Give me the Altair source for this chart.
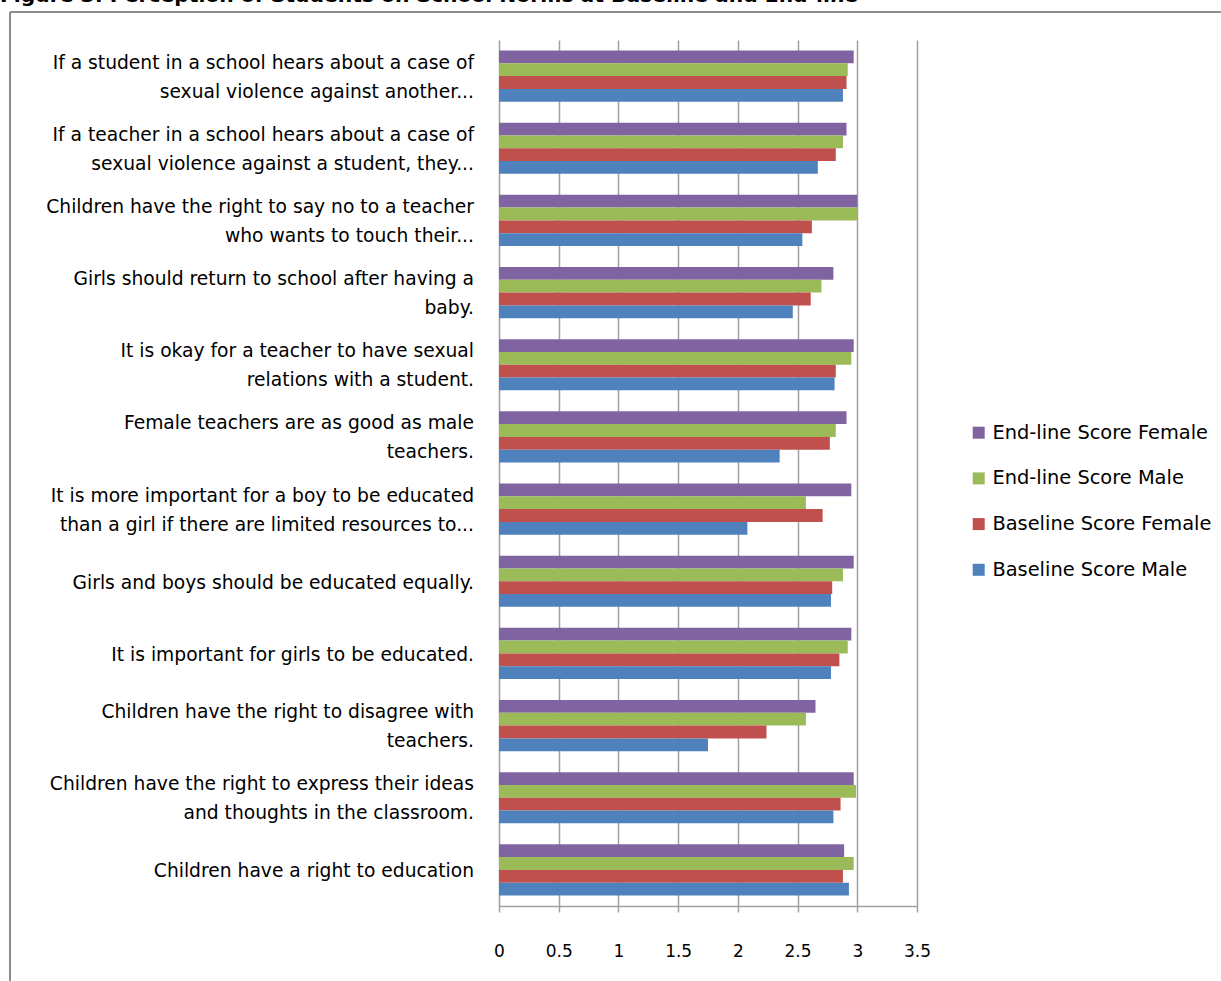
import altair as alt
import pandas as pd

# Survey statements (top to bottom), line breaks mark wrapped labels
categories = [
    "If a student in a school hears about a case of\nsexual violence against another...",
    "If a teacher in a school hears about a case of\nsexual violence against a student, they...",
    "Children have the right to say no to a teacher\nwho wants to touch their...",
    "Girls should return to school after having a\nbaby.",
    "It is okay for a teacher to have sexual\nrelations with a student.",
    "Female teachers are as good as male\nteachers.",
    "It is more important for a boy to be educated\nthan a girl if there are limited resources to...",
    "Girls and boys should be educated equally.",
    "It is important for girls to be educated.",
    "Children have the right to disagree with\nteachers.",
    "Children have the right to express their ideas\nand thoughts in the classroom.",
    "Children have a right to education",
]

endline_female = [2.97, 2.91, 3.00, 2.80, 2.97, 2.91, 2.95, 2.97, 2.95, 2.65, 2.97, 2.89]
endline_male = [2.92, 2.88, 3.00, 2.70, 2.95, 2.82, 2.57, 2.88, 2.92, 2.57, 2.99, 2.97]
baseline_female = [2.91, 2.82, 2.62, 2.61, 2.82, 2.77, 2.71, 2.79, 2.85, 2.24, 2.86, 2.88]
baseline_male = [2.88, 2.67, 2.54, 2.46, 2.81, 2.35, 2.08, 2.78, 2.78, 1.75, 2.80, 2.93]

series_names = [
    "End-line Score Female",
    "End-line Score Male",
    "Baseline Score Female",
    "Baseline Score Male",
]
series_colors = ["#8064A2", "#9BBB59", "#C0504D", "#4F81BD"]
x_ticks = [0, 0.5, 1, 1.5, 2, 2.5, 3, 3.5]

title_text = "Figure 3: Perception of Students on School Norms at Baseline and End-line"

rows = []
for name, vals in zip(series_names, [endline_female, endline_male, baseline_female, baseline_male]):
    for cat, v in zip(categories, vals):
        rows.append({"category": cat, "series": name, "value": v})
df = pd.DataFrame(rows)

# One row per printed line of each category label
label_rows = []
for cat in categories:
    parts = cat.split("\n")
    if len(parts) == 1:
        label_rows.append({"category": cat, "text": parts[0], "pos": "single"})
    else:
        label_rows.append({"category": cat, "text": parts[0], "pos": "top"})
        label_rows.append({"category": cat, "text": parts[1], "pos": "bottom"})
labels_df = pd.DataFrame(label_rows)

FONT = "DejaVu Sans"
GRID = "#a0a0a0"

y_cat = alt.Y(
    "category:N",
    sort=categories,
    scale=alt.Scale(paddingInner=0.29, paddingOuter=0.145),
    axis=alt.Axis(
        title=None,
        labels=False,
        tickBand="extent",
        tickSize=6,
        tickColor=GRID,
        tickWidth=1.5,
        domainColor=GRID,
        domainWidth=1.5,
        grid=False,
    ),
)

bars = alt.Chart(df).mark_bar().encode(
    y=y_cat,
    yOffset=alt.YOffset(
        "series:N",
        sort=series_names,
        scale=alt.Scale(paddingInner=0, paddingOuter=0),
    ),
    x=alt.X(
        "value:Q",
        scale=alt.Scale(domain=[0, 3.5], nice=False),
        axis=alt.Axis(
            title=None,
            values=x_ticks,
            format="~g",
            labelFont=FONT,
            labelFontSize=17,
            labelColor="#000000",
            labelPadding=31,
            labelFlush=False,
            tickSize=6,
            tickColor=GRID,
            tickWidth=1.5,
            domainColor=GRID,
            domainWidth=1.5,
            grid=True,
            gridColor=GRID,
            gridWidth=1.5,
        ),
    ),
    color=alt.Color(
        "series:N",
        sort=series_names,
        scale=alt.Scale(domain=series_names, range=series_colors),
        legend=alt.Legend(
            title=None,
            orient="none",
            legendX=470,
            legendY=383,
            symbolType="square",
            symbolSize=144,
            symbolStrokeWidth=0,
            labelFont=FONT,
            labelFontSize=19.4,
            labelColor="#000000",
            labelOffset=4,
            rowPadding=24.7,
            labelLimit=0,
        ),
    ),
)


def label_layer(pos, dy):
    """Category label lines, right-aligned to the left of the axis."""
    return (
        alt.Chart(labels_df)
        .transform_filter(alt.datum.pos == pos)
        .mark_text(align="right", baseline="middle", dy=dy, font=FONT, fontSize=18.7, color="#000000")
        .encode(
            y=alt.Y("category:N", sort=categories, axis=None),
            x=alt.value(-25),
            text="text:N",
        )
    )


labels_single = label_layer("single", 1.5)
labels_top = label_layer("top", -13.5)
labels_bottom = label_layer("bottom", 15.5)

# Outer frame around the figure
frame_left = alt.Chart(alt.Data(values=[{}])).mark_rule(color="#8c8c8c", strokeWidth=2).encode(
    x=alt.value(-489), y=alt.value(-28), y2=alt.value(945)
)
frame_top = alt.Chart(alt.Data(values=[{}])).mark_rule(color="#8c8c8c", strokeWidth=2).encode(
    x=alt.value(-489), x2=alt.value(730), y=alt.value(-28)
)

# Figure caption sitting above the frame
caption = alt.Chart(alt.Data(values=[{"t": title_text}])).mark_text(
    align="left", baseline="alphabetic", font=FONT, fontSize=20.3, fontWeight="bold", color="#000000"
).encode(x=alt.value(-499), y=alt.value(-38.5), text="t:N")

chart = alt.layer(
    bars, labels_single, labels_top, labels_bottom, frame_left, frame_top, caption
).properties(
    width=418,
    height=866,
    autosize=alt.AutoSizeParams(type="none"),
    padding={"left": 499, "top": 40, "right": 304, "bottom": 75},
    background="white",
).configure_view(stroke=None)

chart.save("out.html", embed_options={"renderer": "svg", "actions": False})
